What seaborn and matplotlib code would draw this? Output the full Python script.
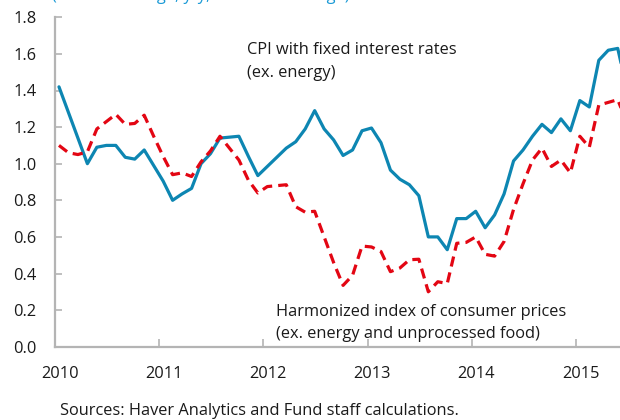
import numpy as np
import pandas as pd
import matplotlib
matplotlib.use("Agg")
import matplotlib.pyplot as plt
import seaborn as sns

cpif_ex_energy = [1.42, 1.28, 1.14, 1.00, 1.09, 1.10, 1.10, 1.035, 1.025, 1.075, 0.99, 0.905,
                  0.80, 0.835, 0.865, 1.00, 1.055, 1.14, 1.145, 1.15, 1.04, 0.935, 0.985, 1.035,
                  1.085, 1.12, 1.19, 1.29, 1.19, 1.13, 1.045, 1.075, 1.18, 1.195, 1.115, 0.965,
                  0.915, 0.885, 0.825, 0.60, 0.60, 0.53, 0.70, 0.70, 0.74, 0.65, 0.72, 0.835,
                  1.015, 1.075, 1.15, 1.215, 1.17, 1.245, 1.18, 1.345, 1.31, 1.565, 1.62, 1.63, 1.40]
hicp_ex_energy_food = [1.10, 1.06, 1.05, 1.065, 1.19, 1.23, 1.27, 1.215, 1.22, 1.265, 1.15, 1.04,
                       0.94, 0.95, 0.93, 1.01, 1.07, 1.15, 1.085, 1.02, 0.91, 0.84, 0.875, 0.88,
                       0.885, 0.765, 0.735, 0.74, 0.60, 0.46, 0.335, 0.39, 0.55, 0.545, 0.52, 0.41,
                       0.43, 0.475, 0.478, 0.30, 0.355, 0.345, 0.565, 0.57, 0.60, 0.505, 0.495, 0.575,
                       0.75, 0.89, 1.02, 1.085, 0.985, 1.02, 0.95, 1.15, 1.09, 1.32, 1.335, 1.35, 1.22]
year_labels = ["2010", "2011", "2012", "2013", "2014", "2015"]
y_ticks = [0.0, 0.2, 0.4, 0.6, 0.8, 1.0, 1.2, 1.4, 1.6, 1.8]

label_cpif = "CPI with fixed interest rates\n(ex. energy)"
label_hicp = "Harmonized index of consumer prices\n(ex. energy and unprocessed food)"
source_note = "Sources: Haver Analytics and Fund staff calculations."
subtitle = "(Percent change, y/y, 3-month average)"

df = pd.DataFrame({
    "obs": np.arange(len(cpif_ex_energy)),
    "cpif": cpif_ex_energy,
    "hicp": hicp_ex_energy_food,
})

# ---- style ----
sns.set_theme(style="white")
plt.rcParams["font.family"] = ["Open Sans", "DejaVu Sans"]
FS = 11.8
BLUE = "#0d86b2"
RED = "#e30613"
GRAY = "#b4b4b4"
TXT = "#1a1a1a"

fig = plt.figure(figsize=(6.2, 4.2), dpi=100)
ax = fig.add_axes([55 / 620, 73.3 / 420, 565 / 620, 329.4 / 420])

sns.lineplot(data=df, x="obs", y="cpif", ax=ax, color=BLUE, linewidth=2.3)
sns.lineplot(data=df, x="obs", y="hicp", ax=ax, color=RED, linewidth=2.3,
             linestyle=(0, (3.2, 1.9)))

ax.set_xlim(-0.42, 59.24)
ax.set_ylim(0, 1.8)
ax.set_xlabel("")
ax.set_ylabel("")

# year boundaries (ticks) and year labels (centered on the first observation)
period = 11.0
start = -0.42
tick_pos = [start + period * k for k in range(len(year_labels))]
ax.set_xticks(tick_pos)
ax.set_xticklabels([""] * len(tick_pos))
ax.set_xticks([p + 0.5 for p in tick_pos], minor=True)
ax.set_xticklabels(year_labels, minor=True)
ax.tick_params(axis="x", which="major", direction="in", length=6, width=1.2, color=GRAY)
ax.tick_params(axis="x", which="minor", length=0, pad=14, labelsize=FS, labelcolor=TXT)

ax.set_yticks(y_ticks)
ax.set_yticklabels([f"{v:.1f}" for v in y_ticks])
ax.tick_params(axis="y", direction="in", length=5, width=1.2, color=GRAY, pad=13.5,
               labelsize=FS, labelcolor=TXT)
ax.tick_params(left=True, bottom=True)

for s in ["top", "right"]:
    ax.spines[s].set_visible(False)
for s in ["left", "bottom"]:
    ax.spines[s].set_color(GRAY)
    ax.spines[s].set_linewidth(1.6)

ax.grid(False)

# annotations (in data coordinates)
ax.text(19.9, 1.62, label_cpif.split("\n")[0], fontsize=FS, color=TXT, ha="left", va="center")
ax.text(19.9, 1.495, label_cpif.split("\n")[1], fontsize=FS, color=TXT, ha="left", va="center")
ax.text(22.9, 0.19, label_hicp.split("\n")[0], fontsize=FS, color=TXT, ha="left", va="center")
ax.text(22.9, 0.068, label_hicp.split("\n")[1], fontsize=FS, color=TXT, ha="left", va="center")

fig.text(60 / 620, 1 - 411 / 420, source_note, fontsize=FS, color=TXT, ha="left", va="center")
# subtitle sits above the visible area; only its lowest strokes show, as in the reference
fig.text(52 / 620, 1 + 0.5 / 420, subtitle, fontsize=FS, color="#1a9ad6", ha="left", va="baseline")

fig.savefig("out.png", dpi=100)
